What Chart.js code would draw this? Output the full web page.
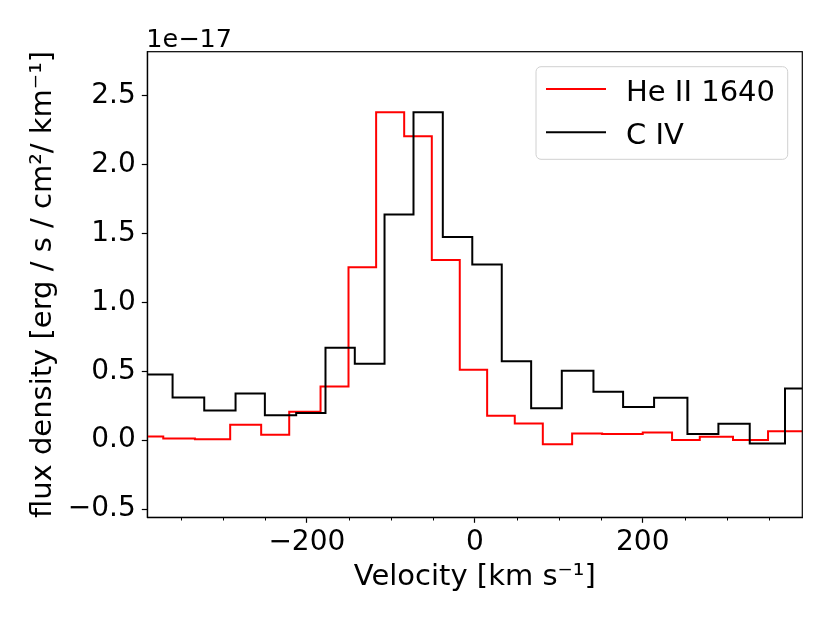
<!DOCTYPE html>
<html>
<head>
<meta charset="utf-8">
<script src="https://cdn.jsdelivr.net/npm/chart.js@4/dist/chart.umd.min.js"></script>
<style>
  html, body { margin: 0; padding: 0; background: #fff; }
  canvas { display: block; }
</style>
</head>
<body>
<canvas id="spec" width="830" height="623"></canvas>
<script>
// flux values are in units of 1e-17 erg / s / cm^2 / km^-1
const heEdges = [-390, -371.0, -333.3, -291.3, -254.4, -221.0, -183.7, -150.4, -117.5, -84.1, -51.2, -17.9,
    14.7, 47.6, 81.0, 115.9, 151.6, 200.0, 234.9, 267.9, 307.5, 349.2, 390];
const heFlux = [0.027, 0.012, 0.007, 0.111, 0.039, 0.206, 0.390, 1.256, 2.381, 2.207, 1.307, 0.511,
    0.177, 0.121, -0.029, 0.048, 0.044, 0.056, 0.002, 0.024, 0.002, 0.065];

const civEdges = [-390, -359.9, -322.2, -284.9, -250.0, -212.7, -177.8, -142.9, -107.5, -73.0, -38.1, -3.0,
    32.1, 67.1, 103.6, 141.3, 176.6, 213.5, 253.2, 290.1, 327.4, 369.4, 390];
const civFlux = [0.477, 0.310, 0.215, 0.339, 0.181, 0.198, 0.670, 0.554, 1.638, 2.381, 1.474,
    1.275, 0.573, 0.232, 0.503, 0.351, 0.240, 0.307, 0.044, 0.119, -0.024, 0.375];

const xMajorTicks = [-200, 0, 200];
const xMinorTicks = [-350, -300, -250, -150, -100, -50, 50, 100, 150, 250, 300, 350];
const yTicks = [-0.5, 0.0, 0.5, 1.0, 1.5, 2.0, 2.5];
const offsetLabel = '1e\u221217';

const FONT = 'DejaVu Sans';

// steps-post: each value holds from its left edge to the next edge
const toSteps = (edges, vals) => {
    const pts = vals.map((v, i) => ({ x: edges[i], y: v }));
    pts.push({ x: edges[edges.length - 1], y: vals[vals.length - 1] });
    return pts;
};

const minus = (s) => String(s).replace('-', '\u2212');

// box, minor ticks, offset text and legend
const decorations = {
    id: 'decorations',
    afterDraw(chart) {
        const { ctx, chartArea: a, scales } = chart;
        ctx.save();

        // full frame
        ctx.strokeStyle = '#000';
        ctx.lineWidth = 1.2;
        ctx.strokeRect(a.left, a.top, a.right - a.left, a.bottom - a.top);

        // minor x ticks
        ctx.lineWidth = 1;
        ctx.beginPath();
        xMinorTicks.forEach(v => {
            const px = Math.round(scales.x.getPixelForValue(v)) + 0.5;
            ctx.moveTo(px, a.bottom);
            ctx.lineTo(px, a.bottom + 3.2);
        });
        ctx.stroke();

        // offset text
        ctx.fillStyle = '#000';
        ctx.font = `25.5px "${FONT}"`;
        ctx.textAlign = 'left';
        ctx.textBaseline = 'alphabetic';
        ctx.fillText(offsetLabel, a.left - 1, a.top - 5);

        // legend
        const bw = 251.7, bh = 92.6;
        const bx = a.right - 14.6 - bw, by = a.top + 15;
        ctx.beginPath();
        ctx.roundRect(bx, by, bw, bh, 5);
        ctx.fillStyle = 'rgba(255,255,255,0.8)';
        ctx.fill();
        ctx.strokeStyle = '#d0d0d0';
        ctx.lineWidth = 1;
        ctx.stroke();

        ctx.font = `29px "${FONT}"`;
        chart.data.datasets.slice().reverse().forEach((ds, i) => {
            const ly = by + 22.3 + i * 43.3;
            ctx.strokeStyle = ds.borderColor;
            ctx.lineWidth = 2;
            ctx.beginPath();
            ctx.moveTo(bx + 10, ly);
            ctx.lineTo(bx + 70, ly);
            ctx.stroke();
            ctx.fillStyle = '#000';
            ctx.fillText(ds.label, bx + 90, ly + 11.7);
        });

        ctx.restore();
    }
};

new Chart(document.getElementById('spec'), {
    type: 'line',
    data: {
        datasets: [
            {
                label: 'C IV',
                data: toSteps(civEdges, civFlux),
                borderColor: '#000000',
                borderWidth: 2,
                stepped: 'before',
                pointRadius: 0,
                fill: false,
                order: 0,
            },
            {
                label: 'He II 1640',
                data: toSteps(heEdges, heFlux),
                borderColor: '#ff0000',
                borderWidth: 2,
                stepped: 'before',
                pointRadius: 0,
                fill: false,
                order: 1,
            },
        ]
    },
    options: {
        responsive: false,
        devicePixelRatio: 1,
        animation: false,
        layout: { padding: { top: 51.7, right: 27.7, left: 0, bottom: 0 } },
        plugins: {
            legend: { display: false },
            tooltip: { enabled: false },
        },
        scales: {
            x: {
                type: 'linear',
                min: -390,
                max: 390,
                afterBuildTicks: (s) => { s.ticks = xMajorTicks.map(v => ({ value: v })); },
                afterFit: (s) => { s.height = 623 - 517.3; },
                grid: { drawOnChartArea: false, drawTicks: true, tickLength: 5.5, color: '#000', tickWidth: 1.2 },
                border: { display: true, color: '#000', width: 1.2 },
                ticks: {
                    color: '#000',
                    padding: 3,
                    maxRotation: 0,
                    font: { family: FONT, size: 28 },
                    callback: (v) => minus(v),
                },
                title: {
                    display: true,
                    text: 'Velocity [km s\u207B\u00B9]',
                    color: '#000',
                    font: { family: FONT, size: 29 },
                    padding: { top: 0, bottom: 28 },
                },
            },
            y: {
                type: 'linear',
                min: -0.56,
                max: 2.82,
                afterBuildTicks: (s) => { s.ticks = yTicks.map(v => ({ value: v })); },
                afterFit: (s) => { s.width = 147.3; },
                grid: { drawOnChartArea: false, drawTicks: true, tickLength: 5.5, color: '#000', tickWidth: 1.2 },
                border: { display: true, color: '#000', width: 1.2 },
                ticks: {
                    color: '#000',
                    padding: 6,
                    font: { family: FONT, size: 28 },
                    callback: (v) => minus(Number(v).toFixed(1)),
                },
                title: {
                    display: true,
                    text: 'flux density [erg / s / cm\u00B2/ km\u207B\u00B9]',
                    color: '#000',
                    font: { family: FONT, size: 29 },
                    padding: { top: 26, bottom: 0 },
                },
            },
        },
    },
    plugins: [decorations],
});
</script>
</body>
</html>
